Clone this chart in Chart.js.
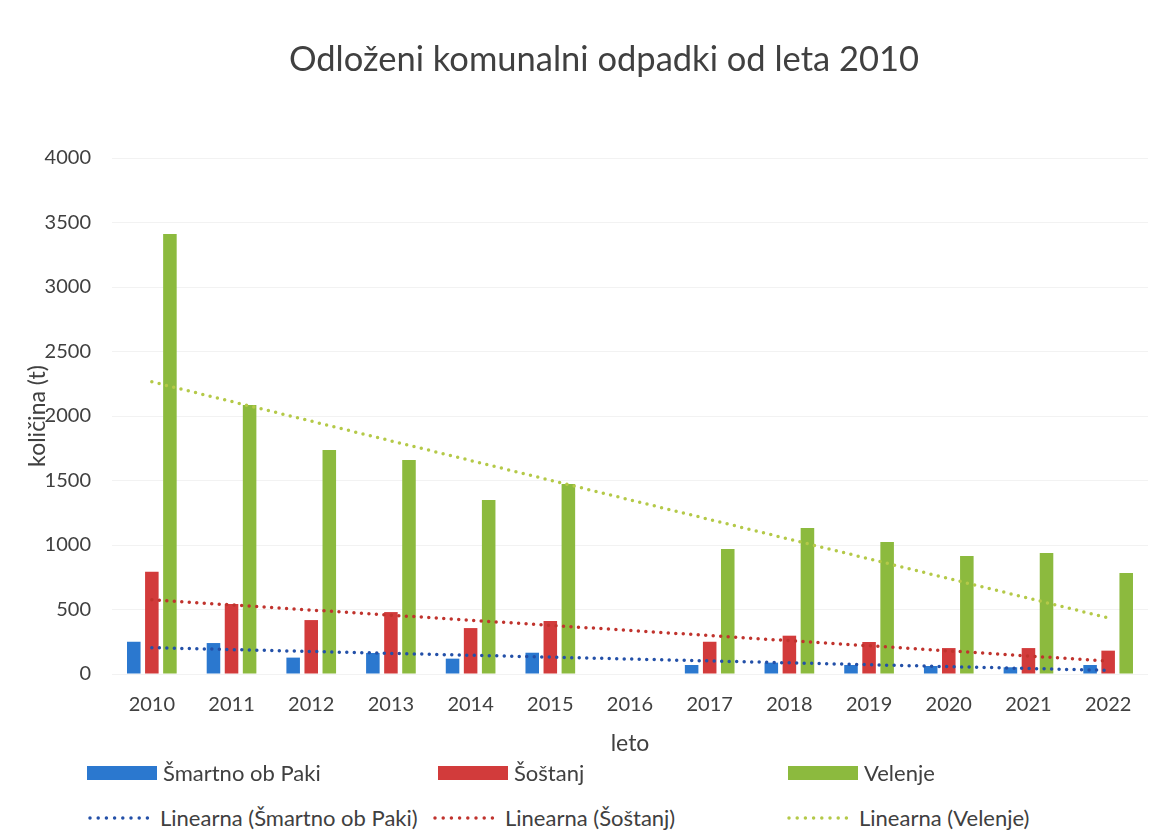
<!DOCTYPE html>
<html>
<head>
<meta charset="utf-8">
<title>Odloženi komunalni odpadki</title>
<script src="https://cdn.jsdelivr.net/npm/chart.js@4/dist/chart.umd.min.js"></script>
<style>
  body { margin: 0; background: #fff; }
  #wrap { position: relative; width: 1171px; height: 831px; font-family: Lato, sans-serif; color: #404040; }
  #chart { position: absolute; left: 0; top: 0; }
  #title { position: absolute; left: 0; width: 1208px; top: 37px; text-align: center; font-size: 34.5px; line-height: 42px; }
  .leg { position: absolute; display: flex; align-items: center; font-size: 22px; white-space: nowrap; }
  .leg .box { width: 70px; height: 14px; margin-right: 6px; }
  .leg canvas { margin-right: 5px; }
</style>
</head>
<body>
<div id="wrap">
  <canvas id="chart" width="1171" height="765"></canvas>
  <div id="title">Odloženi komunalni odpadki od leta 2010</div>
</div>
<script>
const years = ['2010', '2011', '2012', '2013', '2014', '2015', '2016', '2017', '2018', '2019', '2020', '2021', '2022']
const smartno = [250, 240, 127, 163, 119, 165, null, 70, 88, 70, 62, 52, 70]
const sostanj = [793, 542, 418, 480, 356, 411, null, 250, 297, 248, 201, 201, 181]
const velenje = [3410, 2085, 1736, 1659, 1349, 1473, null, 969, 1132, 1023, 915, 938, 783]

// trendline values at first and last year
const trendSmartno = [204, 28]
const trendSostanj = [575, 100]
const trendVelenje = [2265, 435]

const seriesNames = ['Šmartno ob Paki', 'Šoštanj', 'Velenje']
const barColors = ['#2b78cf', '#d23b3b', '#8cba3e']
const trendColors = ['#2350a8', '#c0332d', '#b4c948']
const textColor = '#404040'

function trendLine(ends) {
    return years.map((y, i) => i === 0 ? ends[0] : (i === years.length - 1 ? ends[1] : null));
}

const barData = [smartno, sostanj, velenje]
const trendData = [trendSmartno, trendSostanj, trendVelenje]

const datasets = [];
barData.forEach((values, i) => {
    datasets.push({
        type: 'bar',
        label: seriesNames[i],
        data: values,
        backgroundColor: barColors[i],
        categoryPercentage: 0.68,
        barPercentage: 0.75,
        order: 2
    });
});
trendData.forEach((ends, i) => {
    datasets.push({
        type: 'line',
        label: 'Linearna (' + seriesNames[i] + ')',
        data: trendLine(ends),
        borderColor: trendColors[i],
        borderWidth: 3.5,
        borderDash: [0, 7.5],
        borderCapStyle: 'round',
        pointRadius: 0,
        spanGaps: true,
        fill: false,
        order: 1
    });
});

const ctx = document.getElementById('chart').getContext('2d');
const chart = new Chart(ctx, {
    type: 'bar',
    data: { labels: years, datasets: datasets },
    options: {
        responsive: false,
        animation: false,
        layout: { padding: { left: 0, right: 23, top: 158, bottom: 8 } },
        plugins: {
            legend: { display: false },
            tooltip: { enabled: false }
        },
        scales: {
            x: {
                grid: { display: false, drawTicks: false },
                border: { display: false },
                ticks: { color: textColor, font: { family: 'Lato', size: 20 }, padding: 19 },
                title: {
                    display: true,
                    text: 'leto',
                    color: textColor,
                    font: { family: 'Lato', size: 23 },
                    padding: { top: 10, bottom: 0 }
                },
                afterFit: function(scale) { scale.height = 83; }
            },
            y: {
                min: 0,
                max: 4000,
                grid: { color: '#f2f2f2', drawTicks: false },
                border: { display: false },
                ticks: {
                    stepSize: 500,
                    color: textColor,
                    font: { family: 'Lato', size: 20 },
                    padding: 21,
                    callback: function(value) { return String(value); }
                },
                title: {
                    display: true,
                    text: 'količina (t)',
                    color: textColor,
                    font: { family: 'Lato', size: 23 },
                    padding: { top: 24, bottom: 0 }
                },
                afterFit: function(scale) { scale.width = 112; }
            }
        }
    }
});

// legend laid out like the original (two rows, fixed columns)
const wrap = document.getElementById('wrap');
const legendSpots = [
    { left: 87, top: 773 }, { left: 438, top: 773 }, { left: 788, top: 773 },
    { left: 87, top: 818 }, { left: 432, top: 818 }, { left: 786, top: 818 }
];
chart.data.datasets.forEach((ds, i) => {
    const item = document.createElement('div');
    item.className = 'leg';
    item.style.left = legendSpots[i].left + 'px';
    item.style.top = (legendSpots[i].top - 14) + 'px';
    if (ds.type === 'bar') {
        const box = document.createElement('div');
        box.className = 'box';
        box.style.background = ds.backgroundColor;
        item.appendChild(box);
    } else {
        const c = document.createElement('canvas');
        c.width = 68; c.height = 10;
        const g = c.getContext('2d');
        g.strokeStyle = ds.borderColor;
        g.lineWidth = 3.5;
        g.lineCap = 'round';
        g.setLineDash([0, 8.2]);
        g.beginPath();
        g.moveTo(3, 5);
        g.lineTo(66, 5);
        g.stroke();
        item.appendChild(c);
    }
    const span = document.createElement('span');
    span.textContent = ds.label;
    item.appendChild(span);
    wrap.appendChild(item);
});
</script>
</body>
</html>
